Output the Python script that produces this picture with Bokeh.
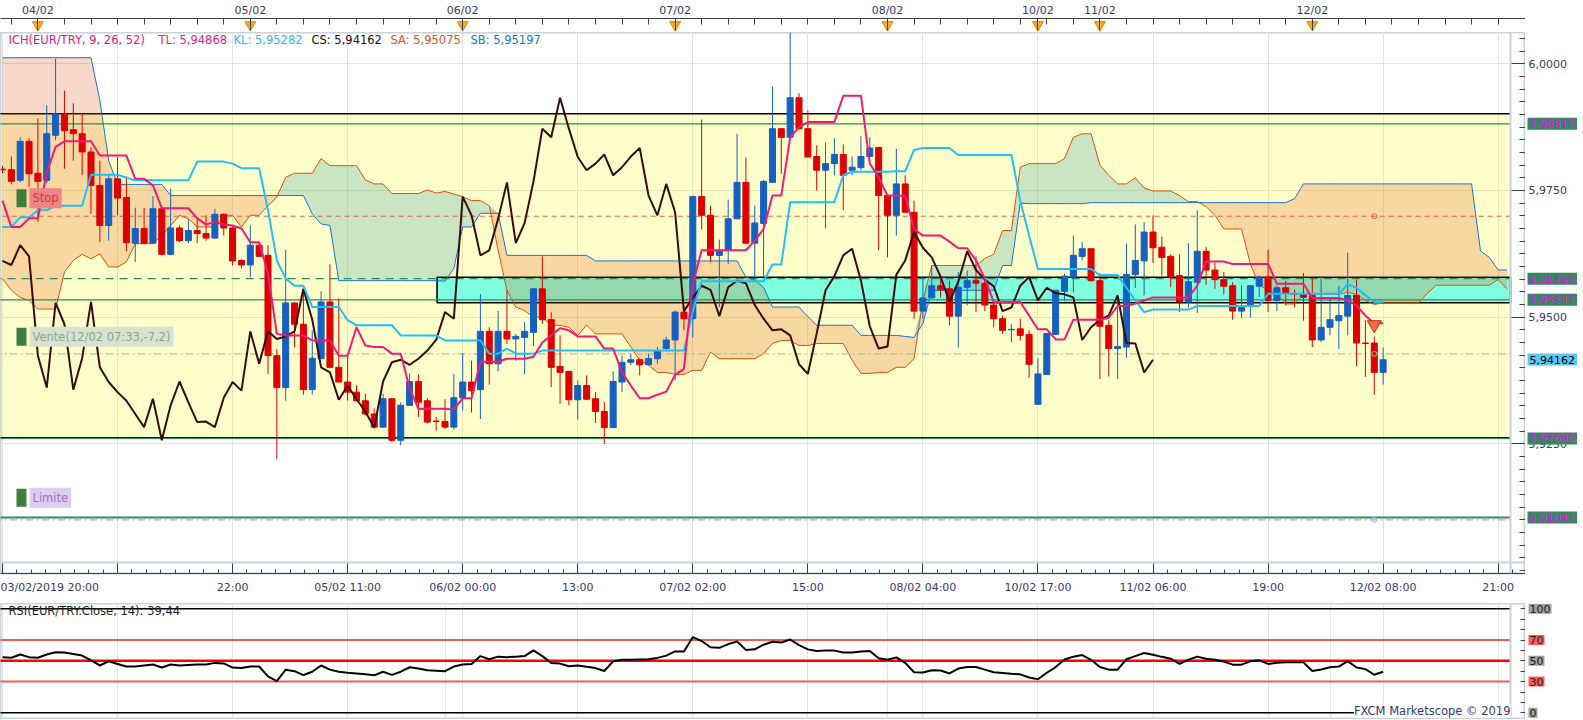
import numpy as np
from bokeh.plotting import figure
from bokeh.models import (Range1d, FixedTicker, CustomJSTickFormatter, Label,
                          Span, BoxAnnotation, Grid)
from bokeh.layouts import column, row
from bokeh.core.properties import value
from bokeh.embed import file_html
from bokeh.resources import INLINE

# ---------------- data (EUR/TRY hourly) ----------------
opens = [5.9792, 5.9791, 5.9770, 5.9847, 5.9784, 5.9770, 5.9859, 5.9901, 5.9870, 5.9862,
         5.9826, 5.9760, 5.9681, 5.9773, 5.9736, 5.9646, 5.9675, 5.9646, 5.9714, 5.9624,
         5.9676, 5.9651, 5.9671, 5.9665, 5.9656, 5.9703, 5.9676, 5.9612, 5.9603, 5.9642,
         5.9622, 5.9424, 5.9361, 5.9528, 5.9486, 5.9357, 5.9418, 5.9530, 5.9401, 5.9372,
         5.9352, 5.9335, 5.9309, 5.9283, 5.9339, 5.9257, 5.9326, 5.9373, 5.9335, 5.9295,
         5.9294, 5.9283, 5.9341, 5.9372, 5.9357, 5.9472, 5.9408, 5.9472, 5.9457, 5.9460,
         5.9470, 5.9556, 5.9495, 5.9403, 5.9393, 5.9337, 5.9365, 5.9339, 5.9314, 5.9282,
         5.9372, 5.9411, 5.9416, 5.9406, 5.9418, 5.9438, 5.9455, 5.9510, 5.9497, 5.9738,
         5.9701, 5.9622, 5.9632, 5.9694, 5.9766, 5.9646, 5.9685, 5.9766, 5.9872, 5.9855,
         5.9933, 5.9872, 5.9817, 5.9790, 5.9803, 5.9821, 5.9790, 5.9795, 5.9817, 5.9835,
         5.9740, 5.9701, 5.9763, 5.9707, 5.9512, 5.9538, 5.9562, 5.9556, 5.9502, 5.9559,
         5.9572, 5.9567, 5.9524, 5.9497, 5.9475, 5.9477, 5.9466, 5.9328, 5.9387, 5.9466,
         5.9551, 5.9579, 5.9620, 5.9635, 5.9572, 5.9484, 5.9438, 5.9441, 5.9584, 5.9611,
         5.9668, 5.9638, 5.9620, 5.9582, 5.9530, 5.9569, 5.9630, 5.9593, 5.9574, 5.9562,
         5.9512, 5.9523, 5.9561, 5.9579, 5.9533, 5.9558, 5.9547, 5.9546, 5.9543, 5.9455,
         5.9480, 5.9493, 5.9502, 5.9543, 5.9449, 5.9449, 5.9391]
highs = [5.9799, 5.9817, 5.9855, 5.9853, 5.9892, 5.9918, 6.0010, 5.9947, 5.9922, 5.9902,
         5.9835, 5.9809, 5.9783, 5.9816, 5.9778, 5.9716, 5.9716, 5.9739, 5.9717, 5.9754,
         5.9681, 5.9693, 5.9695, 5.9701, 5.9714, 5.9705, 5.9679, 5.9614, 5.9681, 5.9648,
         5.9642, 5.9437, 5.9633, 5.9529, 5.9553, 5.9474, 5.9551, 5.9604, 5.9537, 5.9426,
         5.9365, 5.9349, 5.9320, 5.9349, 5.9340, 5.9332, 5.9389, 5.9387, 5.9340, 5.9303,
         5.9338, 5.9388, 5.9429, 5.9414, 5.9546, 5.9480, 5.9512, 5.9553, 5.9467, 5.9490,
         5.9557, 5.9620, 5.9510, 5.9464, 5.9393, 5.9375, 5.9385, 5.9352, 5.9332, 5.9393,
         5.9424, 5.9428, 5.9418, 5.9428, 5.9441, 5.9461, 5.9513, 5.9520, 5.9740, 5.9890,
         5.9720, 5.9653, 5.9732, 5.9862, 5.9815, 5.9720, 5.9771, 5.9955, 5.9874, 6.0062,
         5.9942, 5.9908, 5.9839, 5.9845, 5.9853, 5.9841, 5.9817, 5.9857, 5.9855, 5.9835,
         5.9740, 5.9832, 5.9780, 5.9730, 5.9580, 5.9602, 5.9576, 5.9572, 5.9589, 5.9592,
         5.9620, 5.9576, 5.9530, 5.9503, 5.9486, 5.9497, 5.9474, 5.9419, 5.9468, 5.9553,
         5.9586, 5.9661, 5.9648, 5.9635, 5.9586, 5.9494, 5.9539, 5.9645, 5.9683, 5.9687,
         5.9701, 5.9659, 5.9624, 5.9624, 5.9646, 5.9711, 5.9638, 5.9608, 5.9589, 5.9569,
         5.9562, 5.9562, 5.9582, 5.9633, 5.9562, 5.9572, 5.9554, 5.9587, 5.9576, 5.9580,
         5.9539, 5.9562, 5.9627, 5.9574, 5.9494, 5.9462, 5.9440]
lows = [5.9784, 5.9762, 5.9766, 5.9757, 5.9688, 5.9764, 5.9849, 5.9793, 5.9809, 5.9780,
        5.9704, 5.9648, 5.9651, 5.9701, 5.9630, 5.9609, 5.9645, 5.9645, 5.9622, 5.9622,
        5.9648, 5.9646, 5.9646, 5.9651, 5.9655, 5.9661, 5.9602, 5.9596, 5.9579, 5.9620,
        5.9388, 5.9220, 5.9335, 5.9440, 5.9347, 5.9347, 5.9418, 5.9401, 5.9372, 5.9335,
        5.9335, 5.9306, 5.9280, 5.9282, 5.9253, 5.9247, 5.9326, 5.9303, 5.9290, 5.9276,
        5.9280, 5.9278, 5.9316, 5.9312, 5.9299, 5.9367, 5.9393, 5.9447, 5.9414, 5.9388,
        5.9443, 5.9487, 5.9362, 5.9329, 5.9326, 5.9298, 5.9337, 5.9291, 5.9250, 5.9282,
        5.9352, 5.9405, 5.9385, 5.9406, 5.9408, 5.9434, 5.9375, 5.9474, 5.9460, 5.9673,
        5.9609, 5.9520, 5.9605, 5.9694, 5.9645, 5.9572, 5.9579, 5.9766, 5.9783, 5.9855,
        5.9870, 5.9816, 5.9750, 5.9675, 5.9780, 5.9711, 5.9780, 5.9790, 5.9816, 5.9632,
        5.9618, 5.9661, 5.9707, 5.9497, 5.9497, 5.9538, 5.9539, 5.9484, 5.9440, 5.9523,
        5.9510, 5.9512, 5.9480, 5.9467, 5.9451, 5.9454, 5.9380, 5.9328, 5.9387, 5.9466,
        5.9533, 5.9549, 5.9612, 5.9570, 5.9378, 5.9383, 5.9378, 5.9420, 5.9558, 5.9543,
        5.9607, 5.9582, 5.9559, 5.9510, 5.9519, 5.9508, 5.9564, 5.9556, 5.9545, 5.9495,
        5.9499, 5.9499, 5.9539, 5.9510, 5.9512, 5.9523, 5.9520, 5.9493, 5.9441, 5.9451,
        5.9464, 5.9437, 5.9464, 5.9403, 5.9382, 5.9347, 5.9367]
closes = [5.9791, 5.9768, 5.9847, 5.9783, 5.9768, 5.9862, 5.9901, 5.9868, 5.9862, 5.9826,
          5.9760, 5.9681, 5.9773, 5.9735, 5.9647, 5.9675, 5.9646, 5.9714, 5.9624, 5.9676,
          5.9651, 5.9671, 5.9665, 5.9656, 5.9703, 5.9676, 5.9611, 5.9603, 5.9642, 5.9620,
          5.9424, 5.9361, 5.9528, 5.9486, 5.9357, 5.9419, 5.9530, 5.9401, 5.9372, 5.9352,
          5.9335, 5.9309, 5.9283, 5.9339, 5.9257, 5.9326, 5.9373, 5.9332, 5.9293, 5.9294,
          5.9283, 5.9341, 5.9372, 5.9355, 5.9472, 5.9408, 5.9472, 5.9457, 5.9462, 5.9472,
          5.9556, 5.9495, 5.9401, 5.9391, 5.9337, 5.9365, 5.9338, 5.9314, 5.9282, 5.9373,
          5.9411, 5.9416, 5.9406, 5.9418, 5.9434, 5.9455, 5.9510, 5.9497, 5.9738, 5.9701,
          5.9622, 5.9632, 5.9694, 5.9766, 5.9646, 5.9686, 5.9768, 5.9872, 5.9855, 5.9933,
          5.9872, 5.9816, 5.9790, 5.9803, 5.9821, 5.9780, 5.9796, 5.9817, 5.9834, 5.9740,
          5.9701, 5.9763, 5.9707, 5.9512, 5.9538, 5.9562, 5.9554, 5.9502, 5.9559, 5.9572,
          5.9567, 5.9524, 5.9497, 5.9474, 5.9476, 5.9464, 5.9407, 5.9388, 5.9468, 5.9553,
          5.9581, 5.9622, 5.9635, 5.9572, 5.9482, 5.9438, 5.9442, 5.9584, 5.9612, 5.9668,
          5.9637, 5.9618, 5.9580, 5.9530, 5.9570, 5.9630, 5.9593, 5.9574, 5.9561, 5.9512,
          5.9519, 5.9562, 5.9579, 5.9533, 5.9558, 5.9547, 5.9545, 5.9539, 5.9455, 5.9480,
          5.9495, 5.9503, 5.9543, 5.9449, 5.9448, 5.9391, 5.9416]

tenkan = [5.9730, 5.9678, 5.9678, 5.9695, 5.9695, 5.9786, 5.9836, 5.9847, 5.9847, 5.9847,
          5.9847, 5.9819, 5.9819, 5.9819, 5.9819, 5.9773, 5.9773, 5.9760, 5.9715, 5.9715,
          5.9715, 5.9715, 5.9695, 5.9683, 5.9688, 5.9683, 5.9681, 5.9675, 5.9648, 5.9648,
          5.9586, 5.9467, 5.9464, 5.9464, 5.9464, 5.9454, 5.9454, 5.9454, 5.9424, 5.9424,
          5.9480, 5.9444, 5.9441, 5.9441, 5.9428, 5.9428, 5.9360, 5.9319, 5.9319, 5.9319,
          5.9319, 5.9318, 5.9340, 5.9340, 5.9412, 5.9412, 5.9412, 5.9418, 5.9418, 5.9418,
          5.9422, 5.9450, 5.9464, 5.9478, 5.9474, 5.9462, 5.9462, 5.9462, 5.9438, 5.9438,
          5.9391, 5.9365, 5.9340, 5.9340, 5.9347, 5.9353, 5.9386, 5.9398, 5.9566, 5.9632,
          5.9632, 5.9632, 5.9632, 5.9632, 5.9632, 5.9651, 5.9674, 5.9740, 5.9740, 5.9855,
          5.9875, 5.9885, 5.9885, 5.9885, 5.9885, 5.9937, 5.9937, 5.9937, 5.9803, 5.9776,
          5.9740, 5.9740, 5.9739, 5.9674, 5.9661, 5.9661, 5.9661, 5.9649, 5.9636, 5.9636,
          5.9612, 5.9576, 5.9530, 5.9530, 5.9530, 5.9530, 5.9503, 5.9476, 5.9476, 5.9456,
          5.9456, 5.9495, 5.9495, 5.9495, 5.9495, 5.9499, 5.9522, 5.9522, 5.9527, 5.9533,
          5.9539, 5.9539, 5.9539, 5.9539, 5.9539, 5.9562, 5.9610, 5.9610, 5.9610, 5.9605,
          5.9605, 5.9605, 5.9605, 5.9605, 5.9566, 5.9566, 5.9566, 5.9566, 5.9538, 5.9538,
          5.9538, 5.9538, 5.9533, 5.9523, 5.9503, 5.9488, 5.9488]
kijun = [5.9678, 5.9678, 5.9697, 5.9697, 5.9711, 5.9711, 5.9720, 5.9720, 5.9720, 5.9720,
         5.9781, 5.9781, 5.9781, 5.9781, 5.9775, 5.9770, 5.9770, 5.9770, 5.9770, 5.9770,
         5.9770, 5.9770, 5.9807, 5.9807, 5.9807, 5.9807, 5.9803, 5.9794, 5.9794, 5.9794,
         5.9711, 5.9612, 5.9576, 5.9562, 5.9562, 5.9520, 5.9520, 5.9520, 5.9520, 5.9494,
         5.9484, 5.9484, 5.9484, 5.9484, 5.9484, 5.9464, 5.9464, 5.9464, 5.9464, 5.9464,
         5.9454, 5.9454, 5.9454, 5.9454, 5.9454, 5.9428, 5.9428, 5.9438, 5.9428, 5.9428,
         5.9428, 5.9434, 5.9434, 5.9434, 5.9434, 5.9434, 5.9434, 5.9434, 5.9434, 5.9434,
         5.9434, 5.9434, 5.9434, 5.9434, 5.9434, 5.9434, 5.9434, 5.9434, 5.9512, 5.9571,
         5.9571, 5.9571, 5.9571, 5.9571, 5.9571, 5.9571, 5.9571, 5.9604, 5.9604, 5.9727,
         5.9727, 5.9727, 5.9727, 5.9727, 5.9727, 5.9780, 5.9787, 5.9787, 5.9787, 5.9787,
         5.9787, 5.9788, 5.9788, 5.9830, 5.9834, 5.9834, 5.9834, 5.9834, 5.9820, 5.9820,
         5.9820, 5.9820, 5.9820, 5.9820, 5.9820, 5.9730, 5.9661, 5.9595, 5.9595, 5.9595,
         5.9595, 5.9595, 5.9595, 5.9595, 5.9583, 5.9583, 5.9583, 5.9558, 5.9533, 5.9510,
         5.9515, 5.9515, 5.9515, 5.9515, 5.9515, 5.9522, 5.9522, 5.9522, 5.9522, 5.9522,
         5.9522, 5.9522, 5.9522, 5.9546, 5.9546, 5.9546, 5.9546, 5.9546, 5.9546, 5.9546,
         5.9546, 5.9546, 5.9565, 5.9558, 5.9543, 5.9530, 5.9530]
# senkou spans, already shifted 26 bars forward (bars 0..170)
senkou_a = [5.9576, 5.9553, 5.9539, 5.9533, 5.9516, 5.9516, 5.9516, 5.9589, 5.9612, 5.9624,
            5.9615, 5.9625, 5.9599, 5.9599, 5.9609, 5.9645, 5.9645, 5.9645, 5.9661, 5.9681,
            5.9701, 5.9694, 5.9678, 5.9678, 5.9678, 5.9701, 5.9701, 5.9678, 5.9701, 5.9701,
            5.9720, 5.9737, 5.9776, 5.9784, 5.9784, 5.9784, 5.9813, 5.9799, 5.9799, 5.9799,
            5.9799, 5.9771, 5.9763, 5.9763, 5.9744, 5.9744, 5.9744, 5.9744, 5.9751, 5.9745,
            5.9748, 5.9743, 5.9738, 5.9730, 5.9730, 5.9720, 5.9632, 5.9553, 5.9520, 5.9513,
            5.9500, 5.9500, 5.9484, 5.9484, 5.9480, 5.9464, 5.9484, 5.9467, 5.9467, 5.9467,
            5.9467, 5.9441, 5.9415, 5.9405, 5.9391, 5.9391, 5.9387, 5.9387, 5.9395, 5.9395,
            5.9431, 5.9418, 5.9418, 5.9418, 5.9418, 5.9418, 5.9428, 5.9448, 5.9454, 5.9454,
            5.9444, 5.9444, 5.9448, 5.9448, 5.9448, 5.9448, 5.9415, 5.9389, 5.9389, 5.9391,
            5.9391, 5.9401, 5.9401, 5.9418, 5.9533, 5.9602, 5.9602, 5.9602, 5.9602, 5.9602,
            5.9602, 5.9616, 5.9624, 5.9671, 5.9671, 5.9796, 5.9803, 5.9803, 5.9803, 5.9803,
            5.9813, 5.9855, 5.9862, 5.9862, 5.9800, 5.9780, 5.9763, 5.9763, 5.9775, 5.9755,
            5.9749, 5.9749, 5.9749, 5.9740, 5.9728, 5.9728, 5.9718, 5.9701, 5.9674, 5.9674,
            5.9674, 5.9605, 5.9563, 5.9553, 5.9546, 5.9526, 5.9526, 5.9545, 5.9545, 5.9545,
            5.9545, 5.9545, 5.9549, 5.9545, 5.9533, 5.9525, 5.9528, 5.9528, 5.9528, 5.9528,
            5.9528, 5.9547, 5.9563, 5.9563, 5.9563, 5.9563, 5.9563, 5.9563, 5.9563, 5.9574,
            5.9556]
senkou_b = [6.0012, 6.0012, 6.0012, 6.0012, 6.0012, 6.0012, 6.0012, 6.0012, 6.0012, 6.0012,
            6.0012, 5.9928, 5.9809, 5.9762, 5.9762, 5.9762, 5.9762, 5.9762, 5.9762, 5.9740,
            5.9740, 5.9740, 5.9740, 5.9740, 5.9740, 5.9740, 5.9740, 5.9740, 5.9740, 5.9740,
            5.9740, 5.9740, 5.9740, 5.9740, 5.9740, 5.9704, 5.9684, 5.9681, 5.9572, 5.9572,
            5.9572, 5.9572, 5.9572, 5.9572, 5.9572, 5.9572, 5.9572, 5.9572, 5.9572, 5.9572,
            5.9571, 5.9596, 5.9678, 5.9678, 5.9705, 5.9705, 5.9705, 5.9622, 5.9622, 5.9622,
            5.9622, 5.9622, 5.9622, 5.9622, 5.9622, 5.9622, 5.9622, 5.9611, 5.9611, 5.9611,
            5.9611, 5.9611, 5.9611, 5.9611, 5.9611, 5.9611, 5.9611, 5.9611, 5.9611, 5.9611,
            5.9611, 5.9611, 5.9611, 5.9611, 5.9579, 5.9573, 5.9559, 5.9520, 5.9520, 5.9520,
            5.9520, 5.9501, 5.9484, 5.9484, 5.9484, 5.9484, 5.9484, 5.9464, 5.9464, 5.9464,
            5.9464, 5.9464, 5.9462, 5.9460, 5.9487, 5.9553, 5.9553, 5.9553, 5.9553, 5.9553,
            5.9553, 5.9553, 5.9553, 5.9602, 5.9602, 5.9725, 5.9724, 5.9724, 5.9724, 5.9724,
            5.9724, 5.9724, 5.9724, 5.9726, 5.9726, 5.9726, 5.9726, 5.9726, 5.9726, 5.9726,
            5.9726, 5.9726, 5.9726, 5.9726, 5.9726, 5.9726, 5.9726, 5.9726, 5.9726, 5.9726,
            5.9726, 5.9726, 5.9726, 5.9726, 5.9726, 5.9726, 5.9734, 5.9763, 5.9763, 5.9763,
            5.9763, 5.9763, 5.9763, 5.9763, 5.9763, 5.9763, 5.9763, 5.9763, 5.9763, 5.9763,
            5.9763, 5.9763, 5.9763, 5.9763, 5.9763, 5.9763, 5.9763, 5.9631, 5.9618, 5.9593,
            5.9593]
rsi = [53.5, 53, 56, 53.5, 53, 56, 58.3, 58, 56.5, 55,
       50.5, 45.5, 49.5, 47, 44.5, 44.5, 45.5, 46.5, 43.5, 46.5,
       45.5, 46, 46.5, 46.5, 48, 47.5, 43.5, 43, 44.5, 44.5,
       35, 30.5, 41.5, 40, 36.3, 39.5, 45.5, 41.5, 39.5, 38.5,
       37.8, 37, 36, 39.5, 36.5, 39.5, 43.8, 42.5, 41, 40.5,
       40, 44.5, 46.5, 47, 54.5, 51.5, 54, 53.5, 54, 54.5,
       60, 54.5, 48, 47.3, 44.8, 45.5, 44.3, 43, 40.2, 49.5,
       51, 51, 51.3, 51.5, 52.8, 55, 59, 59, 72.7, 69,
       63, 62.5, 66, 68.5, 60.5, 61, 65.5, 68.3, 67.5, 70.5,
       65, 61, 59.4, 59.8, 59.8, 58, 58, 59, 59.5, 52.5,
       51, 53.3, 48, 39, 38.8, 41, 40.7, 37.8, 42.5, 44,
       44, 41.5, 39, 38.3, 37.5, 37, 34, 32.2, 38.5, 44,
       51.2, 54, 55.5, 51, 44, 41.5, 41.5, 51.5, 54.5, 57.5,
       55.8, 53.8, 52, 47, 51, 54, 52, 51, 49.3, 46.3,
       46.3, 49.5, 50.5, 47, 48.2, 48.7, 48.7, 48.5, 40.2, 41.6,
       43.8, 44.5, 49.7, 43.5, 42, 36.6, 39.44]

chikou_shift = 26
bottom_ticks = list(range(0, 170, 13))
bottom_labels = ["03/02/2019 20:00", "", "22:00", "05/02 11:00", "06/02 00:00", "13:00",
                 "07/02 02:00", "15:00", "08/02 04:00", "10/02 17:00", "11/02 06:00",
                 "19:00", "12/02 08:00", "21:00"]
day_bars = [4, 28, 52, 76, 100, 117, 124, 148]
day_labels = ["04/02", "05/02", "06/02", "07/02", "08/02", "10/02", "11/02", "12/02"]
price_ticks = [5.925, 5.95, 5.975, 6.0]

range_zone = (5.99013, 5.92619)          # yellow zone
cyan_zone = (5.95788, 5.95283)           # cyan zone
cyan_zone_start_bar = 49.1
green_levels = [5.98815, 5.95759, 5.95342, 5.92606, 5.91047]
green_dashed = [False, True, False, False, False]
stop_level = 5.96992
entry_level = 5.94277
limit_level = 5.91001
entry_bar = 155
signal_arrow_price = 5.9485
last_price = 5.94162
legend_names = ["TL", "KL", "CS", "SA", "SB"]
legend_values = [5.94868, 5.95282, 5.94162, 5.95075, 5.95197]
rsi_levels = [100, 70, 50, 30, 0]
rsi_last = 39.44

# ---------------- layout constants ----------------
FONT = "DejaVu Sans"
AXC = "#38386E"
FRAME_W = 1525
TAG_W = 54
MAIN_H = 541
RSI_H = 115
X0, X1 = -0.226, 172.09
XB = 170.4                     # inner light frame border (right)
Y0, Y1 = 5.89941, 6.00618
YB = 5.90158                   # inner light frame border (bottom)
BORDER = "#C9D3DE"
LOOKUP = "const i = tks.indexOf(tick); return i < 0 ? '' : labs[i];"

def fmt5(v):
    return ("%.5f" % v).replace(".", ",")

def fmt4(v):
    return ("%.4f" % v).replace(".", ",")

def sy_main(p):
    return (p - Y0) / (Y1 - Y0) * MAIN_H

xr = Range1d(X0, X1)
xs = np.arange(len(closes))

def style_axis(ax):
    ax.major_tick_out = 0
    ax.minor_tick_out = 0
    ax.major_label_text_font = FONT
    ax.major_label_text_font_size = "11px"
    ax.major_label_text_color = AXC
    ax.axis_line_color = "#404040"
    ax.major_tick_line_color = "#404040"
    ax.minor_tick_line_color = "#404040"

# ---------------- top date strip ----------------
top = figure(frame_width=FRAME_W, frame_height=14, x_range=xr, y_range=Range1d(0, 1),
             x_axis_location="above", y_axis_location=None, toolbar_location=None,
             output_backend="svg", min_border_left=0, min_border_right=0,
             min_border_top=0, min_border_bottom=0, outline_line_color=None)
top.grid.visible = False
ta = top.xaxis[0]
ta.ticker = FixedTicker(ticks=day_bars, minor_ticks=list(range(1, 171, 3)))
ta.formatter = CustomJSTickFormatter(args=dict(tks=day_bars, labs=day_labels), code=LOOKUP)
style_axis(ta)
ta.major_tick_in = 12
ta.minor_tick_in = 6
ta.major_label_standoff = 2
top.scatter(x=day_bars, y=0.55, marker="inverted_triangle", size=11,
            fill_color="#F7A823", line_color="#E38D00")

# ---------------- main price chart ----------------
main = figure(frame_width=FRAME_W, frame_height=MAIN_H, x_range=xr, y_range=Range1d(Y0, Y1),
              y_axis_location="right", toolbar_location=None, output_backend="svg",
              min_border_left=0, min_border_right=0, min_border_top=0, min_border_bottom=30,
              background_fill_color="white", outline_line_color=BORDER, outline_line_width=2)
main.xgrid.grid_line_color = "#E2E2E2"
main.ygrid.grid_line_color = "#E2E2E2"

bx = main.xaxis[0]
bx.ticker = FixedTicker(ticks=bottom_ticks, minor_ticks=[k * 13 / 8 for k in range(0, 106)])
bx.formatter = CustomJSTickFormatter(args=dict(tks=bottom_ticks, labs=bottom_labels), code=LOOKUP)
style_axis(bx)
bx.major_tick_in = 11
bx.minor_tick_in = 4
bx.major_label_standoff = 7

by = main.yaxis[0]
by.ticker = FixedTicker(ticks=price_ticks, minor_ticks=[round(5.9 + 0.0025 * k, 4) for k in range(45)])
by.formatter = CustomJSTickFormatter(code="return '';")
style_axis(by)
by.major_tick_in = 15
by.minor_tick_in = 6
by.major_label_standoff = 0

# yellow range zone and its borders
main.quad(left=-1, right=XB, bottom=range_zone[1], top=range_zone[0],
          fill_color="#FFFF00", fill_alpha=0.2, line_color=None)
main.segment(x0=-1, x1=XB, y0=list(range_zone), y1=list(range_zone), line_color="black", line_width=1.6)
# cyan zone
main.quad(left=cyan_zone_start_bar, right=XB, bottom=cyan_zone[1], top=cyan_zone[0],
          fill_color="#7FFFE0", line_color="black", line_width=1.6)

# ichimoku cloud
sa = np.array(senkou_a)
sb = np.array(senkou_b)
xc = np.arange(len(sa))
upper = np.maximum(sa, sb)
main.varea(x=xc, y1=sa, y2=upper, fill_color="#DE4D05", fill_alpha=0.22)
main.varea(x=xc, y1=sb, y2=upper, fill_color="#2A96A0", fill_alpha=0.25)
main.line(xc, sa, line_color="#E0500A", line_width=1)
main.line(xc, sb, line_color="#1874CD", line_width=1)

# horizontal levels
for lv, dash in zip(green_levels, green_dashed):
    main.segment(x0=-1, x1=XB, y0=lv, y1=lv, line_color="#2E8B57",
                 line_width=2 if lv == green_levels[-1] else 1.2,
                 line_dash="8 6" if dash else "solid")
main.segment(x0=-1, x1=XB, y0=stop_level, y1=stop_level, line_color="#E86050",
             line_width=1.2, line_dash="5 4")
main.segment(x0=-1, x1=XB, y0=entry_level, y1=entry_level, line_color="#A9C58E",
             line_width=1.2, line_dash="8 3 2 3")
main.segment(x0=-1, x1=XB, y0=limit_level, y1=limit_level, line_color="#C6A6E2",
             line_width=1.2, line_dash="8 3 2 3")

# candles
o = np.array(opens); c = np.array(closes)
cols = ["#1560C0" if cc >= oo else "#DD0000" for oo, cc in zip(o, c)]
main.segment(x0=xs, x1=xs, y0=lows, y1=highs, line_color=cols, line_width=1)
main.vbar(x=xs, width=0.68, top=np.maximum(o, c), bottom=np.minimum(o, c),
          fill_color=cols, line_color=cols, line_width=1)

# ichimoku lines
cs_y = closes[chikou_shift:]
main.line(np.arange(len(cs_y)), cs_y, line_color="#3B0A0A", line_width=2)
main.line(xs, kijun, line_color="#1EC0F5", line_width=2)
main.line(xs, tenkan, line_color="#F2197A", line_width=2)

# order markers
main.scatter(x=[entry_bar], y=[signal_arrow_price], marker="inverted_triangle", size=14,
             fill_color="#EE6A40", line_color="#C0301A")
main.scatter(x=[entry_bar] * 3, y=[stop_level, entry_level, limit_level], marker="circle", size=5,
             fill_color=None, line_color=["#E86050", "#A9C58E", "#C6A6E2"], line_width=1)

# light inner frame borders
main.add_layout(Span(location=XB, dimension="height", line_color=BORDER, line_width=2))
main.add_layout(Span(location=YB, dimension="width", line_color=BORDER, line_width=2))

# legend header
leg_x = [8, 158, 233, 311, 390, 470]
leg_col = ["#E8157A", "#F2197A", "#2BB8EE", "#2A0A0A", "#E6501C", "#1878C8"]
leg_txt = ["ICH(EUR/TRY, 9, 26, 52)"] + ["%s: %s" % (n, fmt5(v)) for n, v in zip(legend_names, legend_values)]
for lx, lc, lt in zip(leg_x, leg_col, leg_txt):
    main.add_layout(Label(x=lx, y=MAIN_H - 7, x_units="screen", y_units="screen", text=lt,
                          text_font=FONT, text_font_size="11.5px", text_color=lc,
                          text_align="left", text_baseline="middle"))

# order labels (green tag + caption)
tags = [("Stop", stop_level, 18, "#F08585", "#C63E3E"),
        ("Vente(12/02 07:33,-7,2)", entry_level, 17, "#D6E3D0", "#8FA585"),
        ("Limite", limit_level, 22, "#DDCDEE", "#9F6FC8")]
for txt, lv, off, bg, tc in tags:
    cy = sy_main(lv) + off
    main.add_layout(BoxAnnotation(left=16, right=26, bottom=cy - 9, top=cy + 9,
                                  left_units="screen", right_units="screen",
                                  bottom_units="screen", top_units="screen",
                                  fill_color="#3E7F3E", fill_alpha=1, line_color=None))
    main.add_layout(Label(x=29, y=cy, x_units="screen", y_units="screen", text=txt,
                          text_font=FONT, text_font_size="11.5px", text_color=tc,
                          text_align="left", text_baseline="middle",
                          background_fill_color=bg, padding=3))

# ---------------- price scale labels and value tags (right of the axis) ----------------
mtag = figure(frame_width=TAG_W, frame_height=MAIN_H, x_range=Range1d(0, TAG_W), y_range=main.y_range,
              x_axis_location=None, y_axis_location=None, toolbar_location=None,
              output_backend="svg", min_border_left=0, min_border_right=0,
              min_border_top=0, min_border_bottom=30, outline_line_color=None)
mtag.grid.visible = False
mtag.text(x=3, y=price_ticks, text=[fmt4(v) for v in price_ticks], text_font=value(FONT),
          text_font_size="11px", text_color=AXC, text_align="left", text_baseline="middle")
for lv in green_levels:
    mtag.add_layout(Label(x=2, y=lv, text=fmt5(lv),
                          text_font=FONT, text_font_size="11px", text_color="#FF00FF",
                          text_align="left", text_baseline="middle",
                          background_fill_color="#2E8B57", padding=2))
mtag.add_layout(Label(x=2, y=last_price, text=fmt5(last_price),
                      text_font=FONT, text_font_size="11px", text_color="black",
                      text_align="left", text_baseline="middle",
                      background_fill_color="#5BC8F8", padding=2))

# ---------------- RSI panel ----------------
rsi_fig = figure(frame_width=FRAME_W, frame_height=RSI_H, x_range=xr, y_range=Range1d(-5.48, 105.1),
                 x_axis_location=None, y_axis_location="right", toolbar_location=None,
                 output_backend="svg", min_border_left=0, min_border_right=0,
                 min_border_top=0, min_border_bottom=1,
                 background_fill_color="white", outline_line_color=BORDER, outline_line_width=2)
rsi_fig.ygrid.visible = False
rsi_fig.add_layout(Grid(dimension=0, ticker=FixedTicker(ticks=bottom_ticks), grid_line_color="#E2E2E2"))
ry = rsi_fig.yaxis[0]
ry.ticker = FixedTicker(ticks=list(range(0, 101, 10)))
ry.formatter = CustomJSTickFormatter(code="return '';")
style_axis(ry)
ry.major_tick_in = 5
ry.major_label_standoff = 0

rsi_fig.segment(x0=-1, x1=XB, y0=[100, 0], y1=[100, 0], line_color="black", line_width=1.5)
rsi_fig.segment(x0=-1, x1=XB, y0=[70, 30], y1=[70, 30], line_color="#F25A5A", line_width=2)
rsi_fig.segment(x0=-1, x1=XB, y0=50, y1=50, line_color="#FF0000", line_width=2.5)
rsi_fig.line(xs, rsi, line_color="black", line_width=2)
rsi_fig.add_layout(Span(location=XB, dimension="height", line_color=BORDER, line_width=2))

rsi_fig.add_layout(Label(x=8, y=100, y_offset=-2.5, x_units="screen", y_units="data",
                         text="RSI(EUR/TRY.Close, 14): " + ("%.2f" % rsi_last).replace(".", ","),
                         text_font=FONT, text_font_size="11.5px", text_color="#1E1E1E",
                         text_align="left", text_baseline="middle"))
rsi_fig.add_layout(Label(x=1510, y=0, y_offset=2, x_units="screen", y_units="data",
                         text="FXCM Marketscope \u00a9 2019", text_font=FONT, text_font_size="11.5px",
                         text_color=AXC, text_align="right", text_baseline="middle",
                         background_fill_color="white"))

rtag = figure(frame_width=TAG_W, frame_height=RSI_H, x_range=Range1d(0, TAG_W), y_range=rsi_fig.y_range,
              x_axis_location=None, y_axis_location=None, toolbar_location=None,
              output_backend="svg", min_border_left=0, min_border_right=0,
              min_border_top=0, min_border_bottom=1, outline_line_color=None)
rtag.grid.visible = False
for lv in rsi_levels:
    bg = "#FF5A5A" if lv in (70, 30) else "#A0A0A0"
    rtag.add_layout(Label(x=3, y=lv, text=str(lv),
                          text_font=FONT, text_font_size="11px", text_color="#1E1E1E",
                          text_align="left", text_baseline="middle",
                          background_fill_color=bg, padding=1))

layout = column(top, row(main, mtag, spacing=0), row(rsi_fig, rtag, spacing=0), spacing=0)
open("out.html", "w").write(file_html(layout, INLINE))
